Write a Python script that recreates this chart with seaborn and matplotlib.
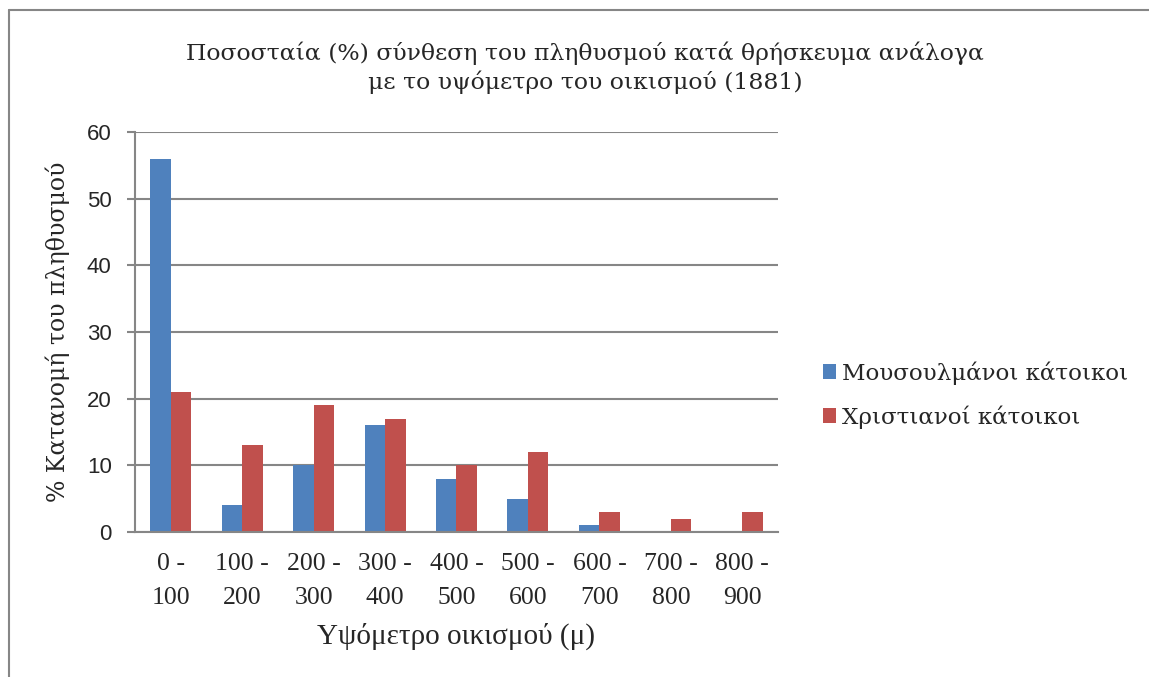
import pandas as pd
import matplotlib.pyplot as plt
import seaborn as sns

# ranges of altitude (m)
katigories = ['0 -\n100', '100 -\n200', '200 -\n300', '300 -\n400', '400 -\n500',
              '500 -\n600', '600 -\n700', '700 -\n800', '800 -\n900']
mousoulmanoi = [56, 4, 10, 16, 8, 5, 1, 0, 0]
xristianoi = [21, 13, 19, 17, 10, 12, 3, 2, 3]
seires = ['Μουσουλμάνοι κάτοικοι', 'Χριστιανοί κάτοικοι']
xromata = ['#4F81BD', '#C0504D']

df = pd.DataFrame({
    'Ypsometro': katigories * 2,
    'Pososto': mousoulmanoi + xristianoi,
    'Seira': [seires[0]] * len(katigories) + [seires[1]] * len(katigories),
})

sns.set_style('white')
serif = ['Liberation Serif', 'DejaVu Serif']
serif_wide = ['DejaVu Serif']
sans = ['Liberation Sans', 'DejaVu Sans']

fig = plt.figure(figsize=(11.49, 6.77), dpi=100)
ax = fig.add_axes([0.1175, 0.2142, 0.5596, 0.5908])

sns.barplot(data=df, x='Ypsometro', y='Pososto', hue='Seira',
            palette=xromata, width=0.575, gap=0, saturation=1,
            edgecolor='none', ax=ax)

ax.set_ylim(0, 60)
ax.set_yticks(range(0, 61, 10))
ax.set_xlim(-0.5, len(katigories) - 0.5)
ax.yaxis.grid(True, color='#868686', linewidth=1.5)
ax.set_axisbelow(True)
for s in ['top', 'right']:
    ax.spines[s].set_visible(False)
for s in ['left', 'bottom']:
    ax.spines[s].set_color('#868686')
    ax.spines[s].set_linewidth(1.5)
ax.tick_params(axis='y', left=True, length=5.8, width=1.5, color='#868686', pad=11)
ax.tick_params(axis='x', length=0, pad=15)
for lab in ax.get_yticklabels():
    lab.set_fontfamily(sans)
    lab.set_fontsize(16)
for lab in ax.get_xticklabels():
    lab.set_fontfamily(serif)
    lab.set_fontsize(18.5)
    lab.set_linespacing(1.73)

ax.set_xlabel('Υψόμετρο οικισμού (μ)', fontsize=21, family=serif, labelpad=10)
ax.set_ylabel('% Κατανομή του πληθυσμού', fontsize=17, family=serif_wide, labelpad=12)

fig.text(0.509, 0.9003, 'Ποσοσταία (%) σύνθεση του πληθυσμού κατά θρήσκευμα ανάλογα\nμε το υψόμετρο του οικισμού (1881)',
         ha='center', va='center', fontsize=16.9, family=serif_wide, linespacing=1.28)

ax.legend(loc='center left', bbox_to_anchor=(1.037, 0.3425), frameon=False,
          prop={'family': serif_wide, 'size': 16.6}, handlelength=0.6, handleheight=0.6,
          handletextpad=0.25, labelspacing=0.9)

# chart border (left and top edges visible)
fig.add_artist(plt.Line2D([0.0075, 0.0075], [0, 0.985], color='#868686', linewidth=1.5,
                          transform=fig.transFigure))
fig.add_artist(plt.Line2D([0.0075, 1], [0.985, 0.985], color='#868686', linewidth=1.5,
                          transform=fig.transFigure))

fig.savefig('out.png', dpi=100)
